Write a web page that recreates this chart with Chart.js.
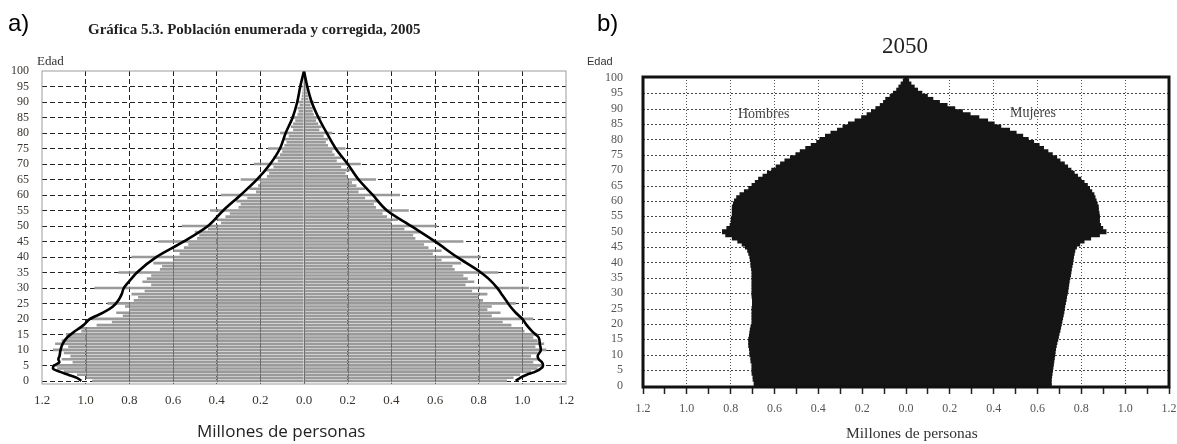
<!DOCTYPE html>
<html>
<head>
<meta charset="utf-8">
<script src="https://cdn.jsdelivr.net/npm/chart.js@4.4.1/dist/chart.umd.min.js"></script>
<style>
  body { margin: 0; width: 1177px; height: 444px; background: #fff; position: relative; overflow: hidden; }
  canvas { position: absolute; top: 0; }
  .lbl { position: absolute; white-space: nowrap; line-height: 1; }
  .serif { font-family: "Liberation Serif", "Times New Roman", serif; }
  .sans { font-family: "Liberation Sans", Arial, sans-serif; }
</style>
</head>
<body>
<canvas id="chartA" width="590" height="444" style="left:0"></canvas>
<canvas id="chartB" width="597" height="444" style="left:580px"></canvas>

<div class="lbl sans" style="left:8px; top:11px; font-size:24px;">a)</div>
<div class="lbl serif" style="left:88px; top:22px; font-size:15px; font-weight:bold; color:#222;">Gráfica 5.3. Población enumerada y corregida, 2005</div>
<div class="lbl serif" style="left:37px; top:54px; font-size:13px; color:#333;">Edad</div>
<div class="lbl" style="left:197px; top:422px; font-size:17px; font-family:'Open Sans'; color:#222;">Millones de personas</div>

<div class="lbl sans" style="left:597px; top:11px; font-size:24px;">b)</div>
<div class="lbl serif" style="left:882px; top:34px; font-size:23px; color:#222;">2050</div>
<div class="lbl sans" style="left:587px; top:56px; font-size:11px; color:#333;">Edad</div>
<div class="lbl serif" style="left:738px; top:107px; font-size:14px; color:#444;">Hombres</div>
<div class="lbl serif" style="left:1010px; top:106px; font-size:14px; color:#444;">Mujeres</div>
<div class="lbl serif" style="left:846px; top:425px; font-size:15.5px; color:#333;">Millones de personas</div>

<script>
// Ages 0..100 (single years)
const ages = Array.from({ length: 101 }, (_, i) => i);
const ageTicks = [0, 5, 10, 15, 20, 25, 30, 35, 40, 45, 50, 55, 60, 65, 70, 75, 80, 85, 90, 95, 100];
const valueTicks = [-1.2, -1.0, -0.8, -0.6, -0.4, -0.2, 0, 0.2, 0.4, 0.6, 0.8, 1.0, 1.2];
const valueTicksFine = [-1.2, -1.1, -1.0, -0.9, -0.8, -0.7, -0.6, -0.5, -0.4, -0.3, -0.2, -0.1, 0,
                        0.1, 0.2, 0.3, 0.4, 0.5, 0.6, 0.7, 0.8, 0.9, 1.0, 1.1, 1.2];

// a) 2005 enumerated population (millions), ages 0..100
const menEnumerated = [
  0.97, 1.00, 1.04, 1.10, 1.13, 1.15, 1.06, 1.11, 1.07, 1.10,
  1.15, 1.08, 1.14, 1.11, 1.08, 1.09, 1.02, 1.03, 0.95, 0.88,
  0.97, 0.83, 0.86, 0.80, 0.82, 0.90, 0.78, 0.76, 0.79, 0.73,
  0.96, 0.70, 0.74, 0.72, 0.70, 0.85, 0.66, 0.65, 0.69, 0.60,
  0.79, 0.57, 0.60, 0.55, 0.53, 0.67, 0.49, 0.48, 0.50, 0.44,
  0.56, 0.38, 0.40, 0.36, 0.34, 0.43, 0.30, 0.29, 0.31, 0.26,
  0.38, 0.22, 0.25, 0.21, 0.20, 0.29, 0.17, 0.16, 0.18, 0.14,
  0.23, 0.12, 0.14, 0.11, 0.10, 0.165, 0.09, 0.08, 0.09, 0.07,
  0.11, 0.05, 0.06, 0.05, 0.04, 0.06, 0.03, 0.025, 0.03, 0.02,
  0.03, 0.012, 0.01, 0.008, 0.006, 0.008, 0.004, 0.003, 0.002, 0.002,
  0.003
];
const womenEnumerated = [
  0.93, 0.96, 0.99, 1.04, 1.07, 1.09, 1.05, 1.08, 1.04, 1.07,
  1.11, 1.06, 1.10, 1.07, 1.05, 1.07, 1.01, 1.00, 0.95, 0.91,
  1.05, 0.86, 0.90, 0.84, 0.86, 0.97, 0.82, 0.80, 0.84, 0.77,
  1.03, 0.74, 0.78, 0.75, 0.73, 0.89, 0.69, 0.68, 0.72, 0.63,
  0.81, 0.59, 0.63, 0.57, 0.55, 0.73, 0.51, 0.50, 0.53, 0.46,
  0.61, 0.40, 0.43, 0.38, 0.36, 0.48, 0.33, 0.32, 0.34, 0.28,
  0.44, 0.25, 0.28, 0.24, 0.22, 0.33, 0.20, 0.19, 0.21, 0.17,
  0.26, 0.15, 0.17, 0.14, 0.13, 0.19, 0.11, 0.10, 0.11, 0.09,
  0.13, 0.07, 0.08, 0.065, 0.055, 0.08, 0.045, 0.04, 0.04, 0.03,
  0.045, 0.02, 0.018, 0.015, 0.012, 0.015, 0.007, 0.005, 0.004, 0.003,
  0.005
];

// a) corrected population curve (millions)
const correctedAges = [0, 1, 2, 3, 4, 5, 6, 7, 8, 10, 12, 14, 16, 18, 20, 22, 24, 26, 28, 30,
                       33, 35, 40, 45, 50, 55, 60, 65, 70, 75, 80, 85, 90, 95, 100];
const menCorrected = [1.02, 1.04, 1.08, 1.12, 1.15, 1.145, 1.12, 1.125, 1.12, 1.115, 1.105, 1.085,
                      1.05, 1.01, 0.98, 0.92, 0.875, 0.85, 0.835, 0.825, 0.79, 0.765, 0.675, 0.55,
                      0.44, 0.37, 0.29, 0.215, 0.155, 0.11, 0.084, 0.052, 0.031, 0.017, 0];
const womenCorrected = [0.97, 0.99, 1.02, 1.06, 1.085, 1.095, 1.09, 1.075, 1.07, 1.085, 1.08, 1.075,
                        1.045, 1.02, 1.0, 0.97, 0.945, 0.925, 0.905, 0.885, 0.845, 0.81, 0.70, 0.60,
                        0.49, 0.38, 0.315, 0.25, 0.20, 0.145, 0.104, 0.066, 0.035, 0.015, 0];

// b) 2050 projection (millions), ages 0..100
const men2050 = [
  0.69, 0.69, 0.695, 0.695, 0.70, 0.70, 0.70, 0.70, 0.705, 0.705,
  0.71, 0.71, 0.712, 0.715, 0.715, 0.715, 0.712, 0.71, 0.708, 0.705,
  0.70, 0.70, 0.70, 0.70, 0.70, 0.70, 0.698, 0.698, 0.698, 0.70,
  0.70, 0.70, 0.70, 0.70, 0.70, 0.70, 0.70, 0.70, 0.702, 0.705,
  0.705, 0.708, 0.71, 0.715, 0.72, 0.73, 0.745, 0.765, 0.79, 0.82,
  0.835, 0.815, 0.80, 0.795, 0.795, 0.79, 0.79, 0.79, 0.79, 0.785,
  0.78, 0.77, 0.755, 0.735, 0.715, 0.70, 0.685, 0.67, 0.65, 0.63,
  0.61, 0.59, 0.57, 0.55, 0.525, 0.50, 0.48, 0.455, 0.43, 0.405,
  0.39, 0.365, 0.34, 0.31, 0.285, 0.26, 0.23, 0.20, 0.175, 0.155,
  0.135, 0.115, 0.10, 0.09, 0.07, 0.055, 0.04, 0.03, 0.02, 0.01,
  0.004
];
const women2050 = [
  0.66, 0.66, 0.66, 0.662, 0.664, 0.666, 0.668, 0.67, 0.672, 0.674,
  0.676, 0.678, 0.68, 0.683, 0.686, 0.69, 0.693, 0.696, 0.70, 0.703,
  0.706, 0.709, 0.712, 0.715, 0.718, 0.72, 0.722, 0.725, 0.728, 0.73,
  0.733, 0.736, 0.738, 0.74, 0.742, 0.745, 0.748, 0.75, 0.752, 0.755,
  0.758, 0.76, 0.762, 0.765, 0.768, 0.775, 0.79, 0.81, 0.84, 0.88,
  0.91, 0.895, 0.885, 0.88, 0.88, 0.88, 0.878, 0.875, 0.875, 0.87,
  0.865, 0.86, 0.855, 0.845, 0.835, 0.825, 0.81, 0.795, 0.78, 0.765,
  0.75, 0.735, 0.72, 0.70, 0.685, 0.665, 0.645, 0.625, 0.605, 0.58,
  0.555, 0.53, 0.50, 0.47, 0.43, 0.40, 0.37, 0.33, 0.29, 0.255,
  0.22, 0.185, 0.15, 0.12, 0.095, 0.07, 0.05, 0.035, 0.02, 0.01,
  0.005
];

const serif = "'Liberation Serif', 'Times New Roman', serif";

// men to the left (negative), women to the right
function leftSide(values, yValues) {
  return values.map((v, i) => ({ x: -v, y: yValues[i] }));
}
function rightSide(values, yValues) {
  return values.map((v, i) => ({ x: v, y: yValues[i] }));
}

// Frame round the plot area
const framePlugin = {
  id: 'frame',
  afterDatasetsDraw(chart, args, opts) {
    const a = chart.chartArea, ctx = chart.ctx;
    ctx.save();
    ctx.strokeStyle = opts.color;
    ctx.lineWidth = opts.width;
    ctx.strokeRect(a.left, a.top, a.right - a.left, a.bottom - a.top);
    ctx.restore();
  }
};

// Horizontal age grid, drawn under the datasets from the y scale ticks
const rowGridPlugin = {
  id: 'rowGrid',
  beforeDatasetsDraw(chart, args, opts) {
    const ctx = chart.ctx, ys = chart.scales.y, a = chart.chartArea;
    ctx.save();
    ctx.strokeStyle = opts.color;
    ctx.lineWidth = 1;
    ctx.setLineDash(opts.dash);
    ys.ticks.forEach(t => {
      if (opts.skip.includes(t.value)) return;
      const py = Math.round(ys.getPixelForValue(t.value)) + 0.5;
      ctx.beginPath(); ctx.moveTo(a.left, py); ctx.lineTo(a.right, py); ctx.stroke();
    });
    ctx.restore();
  }
};

// a): solid centre line, and the vertical grid showing through the gray bars
const barGridPlugin = {
  id: 'barGrid',
  beforeDatasetsDraw(chart) {
    const ctx = chart.ctx, xs = chart.scales.x, a = chart.chartArea;
    const px = Math.round(xs.getPixelForValue(0)) + 0.5;
    ctx.save();
    ctx.strokeStyle = '#555';
    ctx.lineWidth = 1.2;
    ctx.beginPath(); ctx.moveTo(px, a.top); ctx.lineTo(px, a.bottom); ctx.stroke();
    ctx.restore();
  },
  afterDatasetDraw(chart, args) {
    if (args.meta.type !== 'bar') return;
    const ctx = chart.ctx, xs = chart.scales.x, a = chart.chartArea;
    ctx.save();
    ctx.beginPath();
    args.meta.data.forEach(bar => {
      const p = bar.getProps(['x', 'y', 'base', 'height'], true);
      ctx.rect(Math.min(p.x, p.base), p.y - p.height / 2, Math.abs(p.x - p.base), p.height);
    });
    ctx.clip();
    ctx.strokeStyle = '#6e6e6e';
    ctx.lineWidth = 1;
    xs.ticks.forEach(t => {
      const px = Math.round(xs.getPixelForValue(t.value)) + 0.5;
      ctx.beginPath(); ctx.moveTo(px, a.top); ctx.lineTo(px, a.bottom); ctx.stroke();
    });
    ctx.restore();
  }
};

function renderChartA() {
  const barStyle = {
    backgroundColor: '#9a9a9a',
    borderWidth: 0,
    barPercentage: 0.84,
    categoryPercentage: 1,
    grouped: false,
    order: 2
  };
  const lineStyle = {
    type: 'line',
    borderColor: '#000',
    borderWidth: 2.6,
    pointRadius: 0,
    fill: false,
    cubicInterpolationMode: 'monotone',
    order: 0
  };

  new Chart(document.getElementById('chartA'), {
    type: 'bar',
    data: {
      datasets: [
        { label: 'Hombres enumerados', data: leftSide(menEnumerated, ages), ...barStyle },
        { label: 'Mujeres enumeradas', data: rightSide(womenEnumerated, ages), ...barStyle },
        { label: 'Hombres corregidos', data: leftSide(menCorrected, correctedAges), ...lineStyle },
        { label: 'Mujeres corregidas', data: rightSide(womenCorrected, correctedAges), ...lineStyle }
      ]
    },
    options: {
      indexAxis: 'y',
      responsive: false,
      devicePixelRatio: 1,
      animation: false,
      layout: { padding: { top: 71, right: 24, left: 0, bottom: 0 } },
      plugins: {
        legend: { display: false }, tooltip: { enabled: false },
        frame: { color: '#9c9c9c', width: 1 },
        rowGrid: { color: '#222', dash: [5, 3], skip: [100] }
      },
      scales: {
        x: {
          type: 'linear', min: -1.2, max: 1.2, offset: false,
          afterBuildTicks: s => { s.ticks = valueTicks.map(v => ({ value: v })); },
          afterFit: s => { s.height = 60; },
          ticks: {
            autoSkip: false,
            callback: v => Math.abs(v).toFixed(1),
            font: { family: serif, size: 13 }, color: '#3a3530', padding: 9, maxRotation: 0
          },
          grid: {
            offset: false,
            color: c => (c.tick && (c.tick.value === 0 || Math.abs(c.tick.value) > 1.1)) ? 'transparent' : '#222',
            lineWidth: 1, drawTicks: false
          },
          border: { display: false, dash: [5, 3] }
        },
        y: {
          type: 'linear', min: -1, max: 100, offset: false,
          afterBuildTicks: s => { s.ticks = ageTicks.map(v => ({ value: v })); },
          afterFit: s => { s.width = 42; },
          ticks: { autoSkip: false, font: { family: serif, size: 12 }, color: '#3a3530', padding: 5 },
          grid: { display: false, offset: false },
          border: { display: false }
        }
      }
    },
    plugins: [rowGridPlugin, barGridPlugin, framePlugin]
  });
}

function renderChartB() {
  const shapeStyle = {
    backgroundColor: '#151515',
    borderWidth: 0,
    barPercentage: 1,
    categoryPercentage: 1,
    inflateAmount: 1,
    grouped: false
  };

  new Chart(document.getElementById('chartB'), {
    type: 'bar',
    data: {
      datasets: [
        { label: 'Hombres', data: leftSide(men2050, ages), ...shapeStyle },
        { label: 'Mujeres', data: rightSide(women2050, ages), ...shapeStyle }
      ]
    },
    options: {
      indexAxis: 'y',
      responsive: false,
      devicePixelRatio: 1,
      animation: false,
      layout: { padding: { top: 77, right: 8, left: 0, bottom: 0 } },
      plugins: {
        legend: { display: false }, tooltip: { enabled: false },
        frame: { color: '#111', width: 3 },
        rowGrid: { color: '#444', dash: [2, 2], skip: [0, 100] }
      },
      scales: {
        x: {
          type: 'linear', min: -1.2, max: 1.2, offset: false,
          afterBuildTicks: s => { s.ticks = valueTicksFine.map(v => ({ value: v })); },
          afterFit: s => { s.height = 57; s.paddingRight = 0; s.paddingLeft = 0; },
          ticks: {
            autoSkip: false,
            callback: v => (Math.round(v * 10) % 2 === 0) ? Math.abs(v).toFixed(1) : '',
            font: { family: serif, size: 12 }, color: '#555', padding: 8, maxRotation: 0
          },
          grid: {
            offset: false,
            color: c => {
              const v = c.tick ? Math.round(c.tick.value * 10) : 1;
              return (v % 2 === 0 && v !== 0 && Math.abs(v) < 12) ? '#555' : 'transparent';
            },
            tickColor: '#222', tickLength: 7, tickWidth: 1.5, lineWidth: 1
          },
          border: { display: false, dash: [1, 2] }
        },
        y: {
          type: 'linear', min: -0.5, max: 100.3, offset: false,
          afterBuildTicks: s => { s.ticks = ageTicks.map(v => ({ value: v })); },
          afterFit: s => { s.width = 63; },
          ticks: { autoSkip: false, font: { family: serif, size: 12 }, color: '#555', padding: 12 },
          grid: { display: false, offset: false },
          border: { display: false }
        }
      }
    },
    plugins: [rowGridPlugin, framePlugin]
  });
}

document.addEventListener('DOMContentLoaded', function () {
  renderChartA();
  renderChartB();
});
</script>
</body>
</html>
